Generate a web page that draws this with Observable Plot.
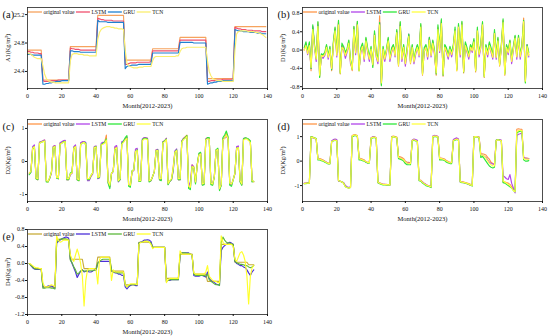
<!DOCTYPE html>
<html><head><meta charset="utf-8">
<script src="https://cdn.jsdelivr.net/npm/d3@7"></script>
<script src="https://cdn.jsdelivr.net/npm/@observablehq/plot@0.6"></script>
<style>
body{margin:0;background:#fff;}
#fig{position:relative;width:550px;height:336px;overflow:hidden;background:#fff;}
.panel{position:absolute;}
.panel svg{display:block;}
</style></head><body><div id="fig"></div>
<script>
// ---------- data ----------
const seriesNames = ["original value","LSTM","GRU","TCN"];
const xTicks = [0,20,40,60,80,100,120,140];
const xTitle = "Month(2012-2023)";

// (a) A1, months 0..139
const origA = [
24.70,24.70,24.70,24.70,24.70,24.70,24.70,24.70,24.70,
24.28,24.28,24.28,24.28,24.28,24.28,24.28,24.28,24.28,24.28,24.28,24.28,24.28,24.28,24.28,24.28,
24.75,24.75,24.75,24.75,24.75,24.75,24.75,24.75,24.75,24.75,24.75,24.75,24.75,24.75,24.75,24.75,
25.19,25.19,25.19,25.19,25.19,25.19,25.19,25.19,25.19,25.19,25.19,25.19,25.19,25.19,25.19,25.19,
24.56,24.56,24.56,24.56,24.56,24.56,24.56,24.56,24.56,24.56,24.56,24.56,24.56,24.56,24.56,24.56,
24.72,24.72,24.72,24.72,24.72,24.72,24.72,24.72,24.72,24.72,24.72,24.72,24.72,24.72,24.72,24.72,
24.88,24.88,24.88,24.88,24.88,24.88,24.88,24.88,24.88,24.88,24.88,24.88,24.88,24.88,24.88,24.88,
24.30,24.30,24.30,24.30,24.30,24.30,24.30,24.30,24.30,24.30,24.30,24.30,24.30,24.30,24.30,24.30,
25.03,25.03,25.03,25.03,25.03,25.03,25.03,25.03,25.03,25.03,25.03,25.03,25.03,25.03,25.03,25.03,25.03,25.03,25.03];
const lstmA = [
24.68,24.68,24.67,24.67,24.66,24.66,24.66,24.65,24.65,
24.27,24.26,24.26,24.26,24.26,24.27,24.27,24.27,24.27,24.28,24.28,24.28,24.28,24.28,24.28,24.28,
24.73,24.72,24.72,24.71,24.71,24.71,24.70,24.70,24.70,24.70,24.70,24.70,24.70,24.70,24.70,24.70,
25.15,25.14,25.13,25.13,25.12,25.12,25.12,25.12,25.12,25.11,25.11,25.11,25.11,25.11,25.11,25.11,
24.50,24.50,24.51,24.52,24.52,24.52,24.52,24.53,24.53,24.53,24.53,24.53,24.53,24.53,24.53,24.54,
24.69,24.69,24.69,24.69,24.69,24.69,24.69,24.69,24.69,24.69,24.69,24.69,24.69,24.69,24.69,24.69,
24.84,24.84,24.84,24.84,24.84,24.84,24.84,24.84,24.84,24.84,24.84,24.84,24.84,24.84,24.84,24.84,
24.26,24.26,24.27,24.27,24.27,24.28,24.28,24.28,24.28,24.29,24.29,24.29,24.29,24.29,24.29,24.30,
25.02,25.01,25.00,25.00,24.99,24.99,24.99,24.98,24.98,24.98,24.98,24.97,24.97,24.97,24.97,24.97,24.96,24.96,24.96];
const gruA = [
24.64,24.64,24.64,24.63,24.63,24.63,24.63,24.63,24.63,
24.22,24.22,24.23,24.23,24.24,24.24,24.25,24.25,24.26,24.26,24.26,24.27,24.27,24.27,24.27,24.27,
24.69,24.69,24.68,24.68,24.68,24.68,24.67,24.67,24.67,24.67,24.67,24.67,24.67,24.67,24.67,24.67,
25.12,25.10,25.10,25.10,25.10,25.10,25.09,25.09,25.09,25.09,25.09,25.09,25.09,25.09,25.09,25.09,
24.44,24.47,24.48,24.48,24.49,24.49,24.49,24.49,24.50,24.50,24.50,24.50,24.50,24.50,24.50,24.50,
24.66,24.66,24.66,24.66,24.66,24.66,24.66,24.66,24.66,24.66,24.66,24.66,24.66,24.66,24.66,24.66,
24.81,24.81,24.81,24.81,24.81,24.81,24.81,24.81,24.80,24.80,24.80,24.80,24.80,24.80,24.80,24.80,
24.22,24.23,24.24,24.24,24.25,24.25,24.26,24.26,24.26,24.27,24.27,24.27,24.27,24.27,24.27,24.27,
24.99,24.98,24.97,24.97,24.97,24.96,24.96,24.96,24.96,24.95,24.95,24.95,24.95,24.94,24.94,24.94,24.93,24.93,24.93];
const tcnA = [
24.66,24.65,24.64,24.62,24.60,24.59,24.58,24.58,24.58,
24.48,24.36,24.30,24.27,24.26,24.25,24.25,24.24,24.24,24.24,24.24,24.24,24.24,24.24,24.24,24.24,
24.55,24.64,24.65,24.65,24.65,24.64,24.64,24.64,24.63,24.63,24.63,24.62,24.62,24.62,24.62,24.62,
24.85,24.95,24.99,25.01,25.02,25.03,25.03,25.03,25.02,25.02,25.01,25.01,25.00,25.00,25.00,24.99,
24.70,24.52,24.48,24.47,24.46,24.45,24.45,24.45,24.46,24.46,24.46,24.47,24.47,24.47,24.47,24.47,
24.55,24.60,24.61,24.61,24.61,24.61,24.61,24.61,24.61,24.61,24.61,24.61,24.61,24.61,24.62,24.62,
24.68,24.72,24.73,24.73,24.74,24.74,24.74,24.74,24.74,24.74,24.74,24.74,24.74,24.74,24.74,24.74,
24.55,24.40,24.34,24.30,24.29,24.28,24.27,24.27,24.27,24.26,24.26,24.26,24.26,24.26,24.26,24.26,
24.70,24.93,24.96,24.97,24.97,24.97,24.97,24.97,24.96,24.96,24.96,24.96,24.95,24.95,24.94,24.93,24.92,24.90,24.88];

// (b) D1, months 1..132
const origB = [0.0,0.15,-0.05,0.15,-0.45,0.5,0.1,-0.2,0.6,-0.58, -0.1,-0.12,-0.1,0.1,-0.15,0.05,-0.45,0.15,0.48,-0.1, 0.63,-0.52,0.1,0.05,-0.1,0.0,0.2,-0.25,-0.45,0.5, -0.05,0.62,-0.45,0.0,0.12,-0.2,0.25,0.0,-0.2,0.05, -0.35,0.38,-0.1,-0.25,0.75,-0.75,0.05,-0.2,0.0,0.25, -0.2,0.0,0.1,-0.1,0.42,-0.35,0.6,-0.2,0.1,-0.3, 0.0,0.32,-0.3,0.1,-0.25,-0.05,0.1,-0.1,0.55,-0.55, 0.0,0.1,-0.15,0.25,-0.1,0.2,-0.05,-0.55,0.5,0.0, 0.65,-0.57,0.1,0.0,-0.15,0.05,-0.1,0.1,0.45,-0.45, 0.55,-0.1,0.6,-0.5,0.15,0.0,-0.15,0.1,0.0,0.22, -0.48,0.45,-0.1,0.1,0.6,-0.6,0.1,-0.1,0.15,0.0, -0.15,0.4,-0.15,0.25,-0.35,0.1,0.65,-0.55,0.1,-0.05, 0.2,-0.25,0.05,0.3,-0.15,0.3,-0.15,0.1,0.7,-0.7, 0.1,-0.1];
const lstmB = [0.02,0.12,-0.1,0.12,-0.4,0.52,0.05,-0.25,0.55,-0.52, -0.15,-0.18,-0.12,0.08,-0.2,0.02,-0.42,0.12,0.45,-0.15, 0.58,-0.48,0.08,0.0,-0.18,-0.05,0.15,-0.3,-0.4,0.45, -0.1,0.58,-0.42,-0.05,0.1,-0.25,0.2,-0.05,-0.25,0.02, -0.32,0.35,-0.15,-0.3,0.6,-0.7,0.0,-0.25,-0.05,0.22, -0.25,-0.05,0.08,-0.15,0.4,-0.3,0.55,-0.25,0.05,-0.35, -0.05,0.35,-0.25,0.05,-0.3,-0.1,0.08,-0.15,0.5,-0.5, -0.05,0.08,-0.2,0.28,-0.15,0.15,-0.1,-0.5,0.45,-0.05, 0.6,-0.52,0.05,-0.05,-0.2,0.02,-0.15,0.05,0.42,-0.42, 0.5,-0.15,0.55,-0.45,0.1,-0.05,-0.2,0.05,-0.05,0.2, -0.42,0.4,-0.15,0.05,0.55,-0.55,0.05,-0.15,0.12,-0.05, -0.2,0.38,-0.2,0.22,-0.3,0.05,0.6,-0.5,0.05,-0.1, 0.18,-0.3,0.0,0.28,-0.2,0.25,-0.2,0.05,0.62,-0.65, 0.12,-0.15];
const gruB = [0.05,0.18,-0.02,0.18,-0.4,0.55,0.12,-0.18,0.62,-0.6, -0.08,-0.1,-0.05,0.12,-0.12,0.08,-0.43,0.18,0.5,-0.05, 0.65,-0.5,0.15,0.08,-0.05,0.03,0.22,-0.2,-0.42,0.52, 0.0,0.63,-0.45,0.05,0.15,-0.15,0.28,0.05,-0.15,0.08, -0.38,0.42,-0.05,-0.2,0.6,-0.78,0.08,-0.15,0.02,0.28, -0.15,0.05,0.12,-0.05,0.45,-0.32,0.62,-0.15,0.12,-0.25, 0.05,0.35,-0.25,0.12,-0.22,0.0,0.12,-0.05,0.58,-0.52, 0.05,0.12,-0.1,0.28,-0.05,0.22,0.0,-0.52,0.55,0.05, 0.68,-0.55,0.12,0.05,-0.1,0.08,-0.05,0.12,0.5,-0.42, 0.58,-0.05,0.63,-0.48,0.18,0.05,-0.1,0.12,0.05,0.25, -0.45,0.5,-0.05,0.12,0.62,-0.58,0.12,-0.05,0.18,0.05, -0.1,0.45,-0.1,0.28,-0.32,0.12,0.68,-0.52,0.12,0.0, 0.22,-0.2,0.08,0.32,-0.1,0.32,-0.1,0.12,0.65,-0.72, 0.12,-0.05];
const tcnB = [0.0,0.1,-0.08,0.1,-0.38,0.45,0.05,-0.2,0.52,-0.55, -0.12,-0.14,-0.1,0.06,-0.16,0.02,-0.4,0.1,0.42,-0.12, 0.55,-0.5,0.06,0.02,-0.12,-0.02,0.15,-0.25,-0.42,0.45, -0.06,0.55,-0.45,-0.02,0.08,-0.2,0.2,-0.02,-0.2,0.02, -0.32,0.32,-0.12,-0.25,0.55,-0.72,0.02,-0.2,-0.02,0.2, -0.2,-0.02,0.06,-0.12,0.38,-0.33,0.52,-0.2,0.06,-0.3, -0.02,0.3,-0.28,0.06,-0.26,-0.06,0.06,-0.12,0.5,-0.53, -0.02,0.06,-0.15,0.22,-0.12,0.15,-0.06,-0.5,0.45,-0.02, 0.58,-0.53,0.06,-0.02,-0.15,0.02,-0.1,0.06,0.42,-0.45, 0.5,-0.1,0.55,-0.47,0.1,-0.02,-0.15,0.06,-0.02,0.18, -0.45,0.42,-0.1,0.06,0.55,-0.58,0.06,-0.1,0.1,-0.02, -0.16,0.36,-0.16,0.2,-0.33,0.06,0.6,-0.53,0.06,-0.06, 0.16,-0.25,0.02,0.26,-0.15,0.26,-0.15,0.06,0.62,-0.68, 0.08,-0.12];

// (c) D2, months 1..132
const origC = [-0.35,-0.3,0.42,0.48,-0.52,-0.55,0.58,0.6,0.62,0.65, -0.6,-0.62,-0.5,-0.32,0.45,0.48,-0.5,-0.52,0.55,0.58, 0.62,0.63,-0.55,-0.55,-0.38,-0.35,0.42,0.48,-0.55,-0.58, 0.55,0.58,0.6,0.48,-0.55,-0.55,-0.45,-0.35,0.45,0.46, -0.5,-0.48,0.5,0.55,0.58,0.8,-0.6,-0.75,-0.35,-0.3, 0.42,0.45,-0.6,-0.55,0.55,0.6,0.68,0.75,-0.72,-0.75, -0.3,-0.25,0.32,0.36,-0.6,-0.6,0.65,0.72,0.72,0.7, -0.6,-0.58,-0.45,-0.3,0.35,0.35,-0.55,-0.55,0.6,0.62, 0.7,-0.68,-0.6,-0.55,-0.15,0.3,0.35,-0.55,-0.55,0.62, 0.7,0.75,0.8,-0.78,-0.8,-0.1,-0.15,-0.65,-0.1,0.22, 0.25,-0.7,-0.68,0.68,0.72,0.7,-0.68,-0.7,-0.45,0.35, 0.38,-0.85,-0.7,0.68,0.72,0.85,0.7,-0.68,-0.7,-0.55, -0.35,0.42,0.45,-0.6,-0.7,0.68,0.7,0.7,0.65,0.6, -0.6,-0.62];
const lstmC = [-0.38,-0.32,0.45,0.5,-0.5,-0.55,0.58,0.6,0.63,0.65, -0.6,-0.6,-0.5,-0.35,0.45,0.48,-0.5,-0.52,0.57,0.6, 0.63,0.64,-0.55,-0.55,-0.4,-0.35,0.45,0.5,-0.55,-0.55, 0.57,0.6,0.6,0.58,-0.58,-0.58,-0.45,-0.38,0.45,0.47, -0.52,-0.5,0.55,0.58,0.58,0.6,-0.62,-0.78,-0.38,-0.3, 0.45,0.48,-0.62,-0.55,0.6,0.62,0.68,0.72,-0.72,-0.7, -0.3,-0.28,0.38,0.4,-0.58,-0.58,0.68,0.72,0.72,0.7, -0.6,-0.58,-0.45,-0.32,0.35,0.37,-0.55,-0.55,0.6,0.62, 0.7,-0.68,-0.6,-0.55,-0.3,0.32,0.38,-0.55,-0.55,0.62, 0.7,0.72,0.75,-0.75,-0.62,-0.1,-0.2,-0.65,-0.1,0.22, 0.25,-0.7,-0.68,0.68,0.72,0.7,-0.65,-0.68,-0.45,0.35, 0.38,-0.85,-0.72,0.68,0.7,0.75,0.7,-0.68,-0.7,-0.55, -0.38,0.45,0.47,-0.6,-0.7,0.7,0.7,0.7,0.65,0.6, -0.6,-0.6];
const gruC = [-0.4,-0.32,0.38,0.45,-0.52,-0.55,0.55,0.58,0.6,0.62, -0.62,-0.62,-0.5,-0.3,0.42,0.45,-0.5,-0.52,0.52,0.55, 0.6,0.6,-0.55,-0.55,-0.35,-0.32,0.4,0.45,-0.55,-0.58, 0.52,0.55,0.58,0.55,-0.55,-0.55,-0.42,-0.35,0.42,0.45, -0.5,-0.48,0.5,0.55,0.58,0.68,-0.65,-0.82,-0.35,-0.3, 0.35,0.42,-0.6,-0.55,0.55,0.62,0.72,0.78,-0.75,-0.78, -0.28,-0.25,0.3,0.35,-0.6,-0.6,0.65,0.7,0.7,0.68, -0.62,-0.58,-0.45,-0.3,0.32,0.35,-0.55,-0.58,0.58,0.62, 0.68,-0.7,-0.6,-0.55,-0.25,0.28,0.35,-0.55,-0.55,0.6, 0.68,0.72,0.78,-0.82,-0.85,-0.15,-0.18,-0.68,-0.1,0.25, 0.28,-0.72,-0.7,0.65,0.72,0.72,-0.7,-0.72,-0.45,0.35, 0.4,-0.88,-0.72,0.72,0.8,0.92,0.75,-0.72,-0.75,-0.55, -0.35,0.4,0.42,-0.62,-0.72,0.68,0.72,0.7,0.68,0.62, -0.62,-0.6];
const tcnC = [-0.35,-0.3,0.4,0.45,-0.5,-0.52,0.55,0.58,0.6,0.62, -0.58,-0.6,-0.48,-0.32,0.42,0.45,-0.48,-0.5,0.52,0.55, 0.58,0.6,-0.52,-0.52,-0.38,-0.35,0.4,0.45,-0.52,-0.55, 0.52,0.55,0.58,0.52,-0.52,-0.52,-0.42,-0.35,0.42,0.44, -0.48,-0.46,0.5,0.52,0.55,0.65,-0.6,-0.72,-0.35,-0.3, 0.38,0.42,-0.58,-0.52,0.52,0.58,0.65,0.7,-0.7,-0.72, -0.3,-0.25,0.3,0.33,-0.58,-0.58,0.62,0.68,0.68,0.66, -0.58,-0.56,-0.45,-0.3,0.32,0.33,-0.52,-0.52,0.56,0.6, 0.66,-0.66,-0.58,-0.52,-0.2,0.28,0.33,-0.52,-0.52,0.58, 0.66,0.7,0.75,-0.75,-0.78,-0.15,-0.18,-0.62,-0.12,0.2, 0.23,-0.68,-0.66,0.65,0.68,0.68,-0.66,-0.68,-0.45,0.33, 0.36,-0.82,-0.7,0.65,0.7,0.8,0.68,-0.66,-0.68,-0.55, -0.35,0.4,0.42,-0.58,-0.68,0.65,0.68,0.68,0.63,0.58, -0.58,-0.6];

// (d) D3, months 1..132
const origD = [-0.92,-0.9,-0.9,-0.9, 1.0,0.98,0.95,0.9, 0.1,0.1,0.08,0.05,0.0,-0.05,-0.08,-0.08, 0.8,0.85,0.88,0.85, -0.8,-0.82,-0.85,-0.9,-1.02,-1.08,-1.1,-1.08, 1.05,1.08,1.08,1.05, 0.12,0.1,0.08,0.05,-0.02,-0.05,-0.05, 0.95,0.98,1.0,0.95, -0.85,-0.9,-0.92,-0.95,-0.95,-0.95,-0.97,-0.97, 1.0,1.02,1.0,0.98, 0.2,0.18,0.15,0.1,0.0,-0.05,-0.05,-0.08, 0.85,0.88,0.85,0.82, -0.75,-0.78,-0.85,-0.9,-0.95,-1.0,-1.02,-1.05, 1.0,1.03,1.03,1.0, 0.12,0.12,0.1,0.08,0.02,-0.02,-0.05,-0.05, 0.85,0.88,0.92,0.88, -0.83,-0.85,-0.85,-0.88,-0.9,-0.92,-0.95,-1.0, 1.0,1.0,1.0,0.98, 0.3,0.3,0.28,0.25,0.15,0.08,-0.05,-0.1,-0.15, 0.85,0.88,0.85,0.85, -0.85,-0.85,-0.88,-0.9,-0.95,-1.05,-1.15,-1.2, 1.3,1.32,1.3,1.3, 0.15,0.12,0.12,0.1];
const lstmD = [-0.9,-0.9,-0.88,-0.88, 0.98,0.95,0.93,0.9, 0.08,0.08,0.05,0.02,0.0,-0.05,-0.1,-0.1, 0.82,0.88,0.9,0.88, -0.82,-0.82,-0.85,-0.88,-1.0,-1.05,-1.08,-1.05, 1.02,1.05,1.05,1.02, 0.1,0.08,0.05,0.02,-0.05,-0.08,-0.05, 0.95,1.0,1.0,0.95, -0.88,-0.9,-0.92,-0.95,-0.95,-0.97,-0.97,-0.97, 1.0,1.0,0.98,0.95, 0.15,0.12,0.1,0.05,-0.02,-0.08,-0.08,-0.1, 0.85,0.9,0.88,0.85, -0.78,-0.8,-0.85,-0.92,-0.95,-1.0,-1.02,-1.05, 1.02,1.05,1.03,1.0, 0.1,0.1,0.08,0.05,0.0,-0.05,-0.08,-0.05, 0.88,0.92,0.95,0.9, -0.85,-0.85,-0.88,-0.9,-0.92,-0.95,-0.98,-1.0, 1.0,1.0,1.0,0.98, 0.25,0.25,0.2,0.15,0.05,-0.05,-0.1,-0.12,-0.12, 0.85,0.88,0.88,0.85, -0.6,-0.65,-0.72,-0.75,-0.55,-0.9,-1.1,-1.3, 1.05,1.1,1.12,1.15, 0.15,0.12,0.1,0.1];
const gruD = [-0.92,-0.92,-0.9,-0.9, 1.0,0.97,0.95,0.92, 0.05,0.05,0.02,0.0,-0.05,-0.08,-0.12,-0.12, 0.8,0.82,0.85,0.82, -0.8,-0.82,-0.85,-0.9,-1.05,-1.08,-1.1,-1.08, 1.0,1.03,1.05,1.02, 0.05,0.05,0.02,0.0,-0.05,-0.08,-0.08, 0.92,0.95,0.97,0.92, -0.88,-0.92,-0.95,-0.97,-0.97,-0.97,-0.98,-0.98, 0.97,1.0,0.98,0.95, 0.1,0.08,0.05,0.0,-0.1,-0.15,-0.15,-0.15, 0.82,0.85,0.82,0.8, -0.8,-0.82,-0.9,-0.95,-1.0,-1.02,-1.05,-1.08, 0.98,1.0,1.0,0.97, 0.05,0.05,0.05,0.02,-0.05,-0.08,-0.1,-0.1, 0.82,0.85,0.88,0.85, -0.85,-0.88,-0.88,-0.9,-0.92,-0.95,-0.98,-1.02, 0.98,1.0,0.98,0.95, 0.15,0.2,0.1,0.0,-0.1,-0.2,-0.25,-0.28,-0.25, 0.85,0.88,0.85,0.82, -0.88,-0.9,-0.95,-1.0,-1.05,-1.1,-1.2,-1.25, 1.15,1.2,1.22,1.22, 0.05,0.0,0.0,0.02];
const tcnD = [-0.92,-0.9,-0.9,-0.9, 0.98,0.96,0.94,0.9, 0.08,0.08,0.05,0.02,-0.02,-0.06,-0.1,-0.1, 0.8,0.83,0.86,0.83, -0.8,-0.82,-0.85,-0.9,-1.05,-1.08,-1.1,-1.08, 1.03,1.06,1.06,1.03, 0.1,0.08,0.05,0.02,-0.03,-0.06,-0.06, 0.94,0.97,0.98,0.94, -0.86,-0.9,-0.93,-0.95,-0.96,-0.96,-0.97,-0.97, 0.98,1.0,0.98,0.96, 0.15,0.13,0.1,0.06,-0.03,-0.08,-0.1,-0.1, 0.84,0.87,0.84,0.8, -0.77,-0.8,-0.87,-0.92,-0.97,-1.0,-1.03,-1.05, 1.0,1.02,1.02,0.98, 0.1,0.1,0.08,0.05,0.0,-0.04,-0.07,-0.06, 0.84,0.87,0.9,0.86, -0.84,-0.86,-0.87,-0.89,-0.91,-0.94,-0.97,-1.0, 0.99,1.0,0.99,0.97, 0.25,0.25,0.2,0.12,0.02,-0.08,-0.15,-0.2,-0.2, 0.84,0.87,0.85,0.83, -0.8,-0.85,-0.9,-0.95,-1.0,-1.1,-1.2,-1.25, 1.2,1.25,1.25,1.25, 0.1,0.08,0.08,0.08];

// (e) D4, months 1..132
const origE = [0.0,-0.03,-0.08,-0.12,-0.12,-0.12,-0.12,-0.12, -0.55,-0.55,-0.55,-0.55,-0.55,-0.55,-0.55,-0.55, 0.57,0.57,0.57,0.57,0.57,0.57,0.57,0.57, 0.1,0.1,0.1,0.1,0.1,0.1,0.1,0.1, -0.12,-0.12,-0.12,-0.12,-0.12,-0.12,-0.12,-0.12, 0.15,0.15,0.15,0.15,0.15,0.15,0.15,0.15, -0.18,-0.18,-0.18,-0.18,-0.18,-0.18,-0.18,-0.18, -0.5,-0.5,-0.5,-0.5,-0.5,-0.5,-0.5,-0.5, 0.5,0.5,0.5,0.5,0.5,0.5,0.5,0.5, 0.38,0.38,0.38,0.38,0.38,0.38,0.38,0.38, -0.35,-0.35,-0.35,-0.35,-0.35,-0.35,-0.35,-0.35, 0.22,0.22,0.22,0.22,0.22,0.22,0.22,0.22, -0.25,-0.25,-0.25,-0.25,-0.25,-0.25,-0.25,-0.25, -0.42,-0.42,-0.42,-0.42,-0.42,-0.42,-0.42,-0.42, 0.45,0.45,0.45,0.45,0.45,0.45,0.45,0.45, 0.03,0.03,0.03,0.03,0.03,0.03,0.03,0.03,-0.03,-0.03,-0.03,-0.03];
const lstmE = [0.0,-0.05,-0.1,-0.13,-0.14,-0.14,-0.14,-0.14, -0.55,-0.56,-0.55,-0.53,-0.52,-0.53,-0.55,-0.58, 0.48,0.52,0.55,0.58,0.6,0.62,0.62,0.6, 0.1,0.0,-0.1,-0.2,-0.33,-0.25,-0.18,-0.15, -0.2,-0.18,-0.18,-0.2,-0.2,-0.18,-0.15,-0.15, 0.0,0.05,0.05,0.05,0.05,0.05,0.05,0.05, -0.18,-0.2,-0.22,-0.22,-0.25,-0.25,-0.28,-0.28, -0.55,-0.6,-0.55,-0.52,-0.5,-0.5,-0.52,-0.52, 0.48,0.5,0.52,0.55,0.55,0.56,0.55,0.52, 0.38,0.38,0.38,0.38,0.38,0.38,0.38,0.38, -0.42,-0.4,-0.4,-0.38,-0.38,-0.38,-0.38,-0.38, 0.2,0.25,0.25,0.25,0.25,0.25,0.22,0.2, -0.28,-0.3,-0.3,-0.3,-0.28,-0.28,-0.3,-0.32, -0.2,-0.35,-0.4,-0.42,-0.45,-0.48,-0.5,-0.5, 0.3,0.38,0.42,0.45,0.48,0.5,0.48,0.45, 0.05,0.0,-0.02,-0.05,-0.05,-0.08,-0.1,-0.15,-0.22,-0.28,-0.2,-0.15];
const gruE = [0.0,-0.05,-0.08,-0.12,-0.13,-0.13,-0.13,-0.13, -0.58,-0.58,-0.57,-0.57,-0.57,-0.58,-0.58,-0.6, 0.5,0.55,0.57,0.58,0.58,0.58,0.57,0.56, 0.08,0.02,-0.08,-0.15,-0.25,-0.22,-0.18,-0.15, -0.18,-0.18,-0.17,-0.17,-0.17,-0.17,-0.16,-0.15, 0.02,0.05,0.08,0.1,0.1,0.1,0.1,0.1, -0.15,-0.2,-0.2,-0.22,-0.22,-0.22,-0.22,-0.22, -0.5,-0.55,-0.52,-0.5,-0.5,-0.5,-0.5,-0.5, 0.48,0.5,0.5,0.52,0.52,0.52,0.5,0.48, 0.38,0.38,0.38,0.38,0.38,0.38,0.38,0.38, -0.4,-0.4,-0.38,-0.38,-0.38,-0.38,-0.38,-0.38, 0.2,0.25,0.25,0.25,0.24,0.24,0.22,0.2, -0.25,-0.28,-0.28,-0.28,-0.28,-0.28,-0.28,-0.3, -0.25,-0.38,-0.42,-0.45,-0.48,-0.5,-0.5,-0.52, 0.5,0.62,0.55,0.5,0.48,0.48,0.46,0.45, 0.05,0.02,0.0,-0.02,-0.02,-0.03,-0.05,-0.05,-0.08,-0.1,-0.08,-0.05];
const tcnE = [0.0,-0.02,-0.05,-0.08,-0.1,-0.1,-0.12,-0.12, -0.45,-0.55,-0.55,-0.55,-0.52,-0.5,-0.52,-0.55, 0.65,0.55,0.5,0.52,0.55,0.55,0.55,0.55, 0.2,0.1,0.05,0.2,0.34,0.2,0.0,-0.3, -1.0,-0.4,-0.15,-0.12,-0.12,-0.12,-0.12,-0.15, -0.48,0.1,0.15,0.15,0.15,0.15,0.15,0.12, -0.4,-0.15,-0.2,-0.2,-0.2,-0.2,-0.2,-0.2, -0.5,-0.55,-0.5,-0.48,-0.48,-0.48,-0.48,-0.5, 0.45,0.5,0.5,0.52,0.52,0.52,0.5,0.45, 0.35,0.38,0.38,0.38,0.38,0.38,0.38,0.38, -0.45,-0.38,-0.35,-0.35,-0.35,-0.35,-0.35,-0.35, 0.3,0.22,0.22,0.22,0.22,0.22,0.22,0.2, -0.22,-0.25,-0.25,-0.25,-0.25,-0.25,-0.25,-0.2, -0.05,-0.3,-0.35,-0.4,-0.42,-0.42,-0.45,-0.45, 0.65,0.5,0.45,0.45,0.45,0.45,0.45,0.4, 0.1,0.05,0.15,0.25,0.28,0.2,0.05,-0.3,-0.95,-0.3,-0.1,-0.05];

// tick values
const yTicksA = [24.4,24.8,25.2];
const yTicksB = [-0.8,-0.4,0,0.4,0.8];
const yTicksC = [-1,0,1];
const yTicksD = [-1,0,1];
const yTicksE = [-1.2,-0.8,-0.4,0,0.4,0.8];

// colours
const colorsA = ["#f6a35e","#f0506e","#1f80d0","#fbef6e"];
const colorsBCD = ["#ff9648","#b145e9","#2ee83a","#ffff40"];
const colorsE = ["#c8ac3a","#4b2fd8","#5cb83c","#ffff2a"];

// ---------- drawing ----------
const FONT = "Liberation Serif, Times New Roman, serif";
const panels = [
  {tag:"(a)", ylab:"A1(Kg/m³)", left:0, top:0, start:0, series:[origA,lstmA,gruA,tcnA], colors:colorsA, domain:[24.16,25.3], ticks:yTicksA, fmt:d=>d.toFixed(1), mt:7, mb:24},
  {tag:"(b)", ylab:"D1(Kg/m³)", left:275, top:0, start:1, series:[origB,lstmB,gruB,tcnB], colors:colorsBCD, domain:[-0.84,0.93], ticks:yTicksB, fmt:d=>d.toFixed(1), mt:7, mb:24},
  {tag:"(c)", ylab:"D2(Kg/m³)", left:0, top:112, start:1, series:[origC,lstmC,gruC,tcnC], colors:colorsBCD, domain:[-1.21,1.27], ticks:yTicksC, fmt:d=>String(d), mt:7, mb:23},
  {tag:"(d)", ylab:"D3(Kg/m³)", left:275, top:112, start:1, series:[origD,lstmD,gruD,tcnD], colors:colorsBCD, domain:[-1.65,1.7], ticks:yTicksD, fmt:d=>String(d), mt:7, mb:23},
  {tag:"(e)", ylab:"D4(Kg/m³)", left:0, top:224, start:1, series:[origE,lstmE,gruE,tcnE], colors:colorsE, domain:[-1.2,0.8], ticks:yTicksE, fmt:d=>d.toFixed(1), mt:5, mb:22}
];

const fig = document.getElementById("fig");
const W = 275, H = 112, ML = 27, MR = 8;

for (const p of panels) {
  const lines = p.series.map((vals, i) =>
    Plot.line(vals.map((v, k) => ({month: p.start + k, value: v})),
      {x: "month", y: "value", stroke: p.colors[i], strokeWidth: 1.15})
  );
  const chart = Plot.plot({
    width: W, height: H,
    marginLeft: ML, marginRight: MR, marginTop: p.mt, marginBottom: p.mb,
    x: {domain: [0, 140]},
    y: {domain: p.domain},
    style: {fontFamily: FONT, fontSize: "6px", background: "white", overflow: "visible", color: "#111"},
    marks: [
      ...lines,
      Plot.frame({stroke: "#222", strokeWidth: 0.8}),
      Plot.axisX({ticks: xTicks, tickSize: 2, tickPadding: 3, label: null, fontSize: 6}),
      Plot.axisY({ticks: p.ticks, tickSize: 2, tickPadding: 1, tickFormat: p.fmt, label: null, fontSize: 6}),
      Plot.text([p.ylab], {frameAnchor: "left", dx: -20, rotate: -90, textAnchor: "middle", fontSize: 6.3}),
      Plot.text([xTitle], {frameAnchor: "bottom", dy: 19, fontSize: 6.5}),
      Plot.text([p.tag], {frameAnchor: "top-left", textAnchor: "start", dx: -25, dy: 3, fontSize: 10.5})
    ]
  });
  const wrap = document.createElement("div");
  wrap.className = "panel";
  wrap.style.left = p.left + "px";
  wrap.style.top = p.top + "px";
  wrap.appendChild(chart);
  fig.appendChild(wrap);

  // legend overlay
  const leg = d3.create("svg").attr("width", W).attr("height", H)
    .style("position", "absolute").style("left", p.left + "px").style("top", p.top + "px")
    .style("pointer-events", "none").style("overflow", "visible");
  const g = leg.append("g").attr("transform", `translate(${ML + 1},${p.mt + 5})`);
  fig.appendChild(leg.node());
  let x = 0;
  seriesNames.forEach((name, i) => {
    g.append("line").attr("x1", x).attr("x2", x + 14).attr("y1", 0).attr("y2", 0)
      .attr("stroke", p.colors[i]).attr("stroke-width", 1.3);
    const t = g.append("text").attr("x", x + 15.5).attr("y", 0).attr("dy", "0.35em")
      .attr("font-family", FONT).attr("font-size", 5.6).attr("fill", "#111").text(name);
    x += 15.5 + t.node().getComputedTextLength() + 1.5;
  });
}
</script></body></html>
